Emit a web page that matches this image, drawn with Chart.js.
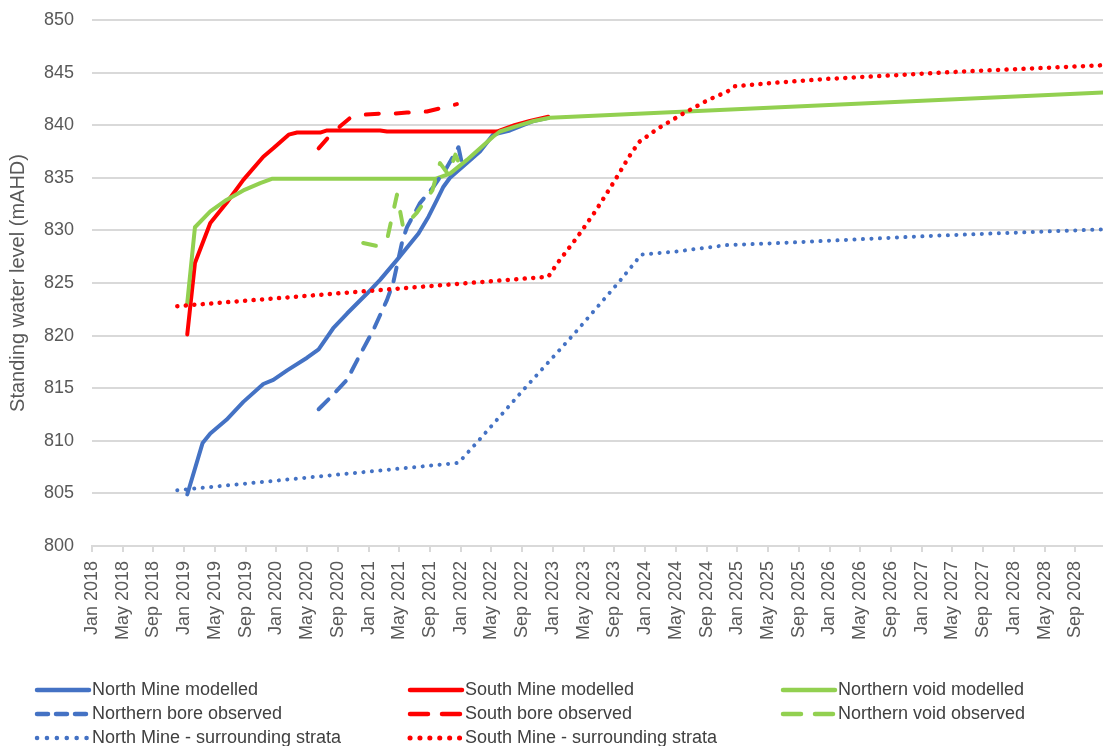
<!DOCTYPE html>
<html>
<head>
<meta charset="utf-8">
<script src="https://cdn.jsdelivr.net/npm/chart.js@4/dist/chart.umd.min.js"></script>
<style>
  html, body { margin: 0; padding: 0; background: #ffffff; }
  canvas { display: block; }
</style>
</head>
<body>
<canvas id="chart" width="1103" height="746"></canvas>
<script>
// Time axis: positions are months since Jan 2018
const tickLabels = [
  'Jan 2018', 'May 2018', 'Sep 2018', 'Jan 2019', 'May 2019', 'Sep 2019',
  'Jan 2020', 'May 2020', 'Sep 2020', 'Jan 2021', 'May 2021', 'Sep 2021',
  'Jan 2022', 'May 2022', 'Sep 2022', 'Jan 2023', 'May 2023', 'Sep 2023',
  'Jan 2024', 'May 2024', 'Sep 2024', 'Jan 2025', 'May 2025', 'Sep 2025',
  'Jan 2026', 'May 2026', 'Sep 2026', 'Jan 2027', 'May 2027', 'Sep 2027',
  'Jan 2028', 'May 2028', 'Sep 2028'
];
const tickMonths = tickLabels.map((_, i) => i * 4);
const axisEndMonth = 131.6;

// North Mine modelled
const northMineModelledMonths = [12.4, 14.4, 15.4, 17.5, 19.7, 22.3, 23.6, 25.4, 28.0, 29.5, 31.4, 33.2, 35.8, 37.5, 39.7, 42.5, 43.8, 44.9, 45.7, 46.6, 48.8, 50.5, 52.2, 54.4, 57.5, 59.4];
const northMineModelled       = [804.9, 809.8, 810.7, 812.0, 813.7, 815.4, 815.8, 816.7, 817.9, 818.7, 820.7, 822.1, 824.0, 825.3, 827.2, 829.7, 831.3, 832.9, 834.1, 835.0, 836.4, 837.5, 839.1, 839.5, 840.4, 840.7];

// South Mine modelled
const southMineModelledMonths = [12.4, 13.4, 15.4, 17.5, 19.7, 22.3, 23.6, 25.6, 26.7, 29.7, 30.6, 37.5, 38.4, 52.7, 55.0, 57.0, 59.4];
const southMineModelled       = [820.1, 826.9, 830.7, 832.6, 834.8, 837.0, 837.8, 839.1, 839.3, 839.3, 839.5, 839.5, 839.4, 839.4, 840.0, 840.4, 840.8];

// Northern void modelled
const northernVoidModelledMonths = [12.4, 13.4, 15.4, 17.5, 19.7, 21.9, 23.4, 44.7, 46.6, 48.8, 52.2, 53.1, 55.7, 57.5, 59.6, 131.6];
const northernVoidModelled       = [823.1, 830.3, 831.8, 832.9, 833.8, 834.5, 834.9, 834.9, 835.4, 836.7, 838.9, 839.4, 840.0, 840.4, 840.7, 843.1];

// Northern bore observed
const northernBoreObservedMonths = [29.5, 31.4, 33.2, 34.9, 36.6, 38.4, 39.2, 39.8, 40.4, 41.0, 42.7, 44.4, 46.2, 47.7, 48.2];
const northernBoreObserved       = [813.0, 814.4, 815.8, 818.2, 820.5, 823.4, 825.0, 827.0, 829.0, 830.3, 832.6, 834.1, 836.0, 837.9, 836.2];

// South bore observed
const southBoreObservedMonths = [29.5, 30.7, 32.3, 33.6, 35.3, 37.5, 39.2, 41.0, 43.6, 45.3, 47.5];
const southBoreObserved       = [837.8, 838.8, 839.9, 840.7, 841.0, 841.1, 841.1, 841.2, 841.3, 841.6, 842.0];

// Northern void observed
const northernVoidObservedMonths = [35.3, 37.2, 38.4, 39.7, 40.5, 42.3, 44.3, 45.3, 46.4, 47.3, 48.3];
const northernVoidObserved       = [828.8, 828.5, 829.1, 833.4, 830.3, 831.7, 833.8, 836.4, 835.3, 837.2, 835.5];

// North Mine - surrounding strata
const northStrataMonths = [11.1, 47.7, 50.3, 56.1, 62.8, 68.6, 71.5, 76.1, 82.6, 89.5, 98.2, 109.9, 131.6];
const northStrata       = [805.3, 807.9, 810.0, 814.8, 820.2, 825.1, 827.7, 828.0, 828.6, 828.8, 829.1, 829.5, 830.1];

// South Mine - surrounding strata
const southStrataMonths = [11.1, 59.4, 60.6, 63.2, 65.6, 68.1, 69.9, 71.2, 73.7, 76.7, 80.2, 82.7, 83.7, 88.2, 95.7, 103.2, 113.2, 131.6];
const southStrata       = [822.8, 825.6, 826.9, 829.4, 831.9, 834.8, 837.0, 838.4, 839.7, 841.0, 842.4, 843.2, 843.7, 844.0, 844.4, 844.7, 845.1, 845.7];

const BLUE = '#4472C4', RED = '#FF0000', GREEN = '#92D050';
const TEXT = '#595959', GRID = '#D9D9D9';
const FONT = '"Liberation Sans", Arial, sans-serif';

const pts = (xs, ys) => xs.map((x, i) => ({ x: x, y: ys[i] }));

function series(label, xs, ys, color, width, dash, legendDash) {
  return {
    label: label,
    data: pts(xs, ys),
    borderColor: color,
    backgroundColor: color,
    borderWidth: width,
    borderDash: dash,
    borderCapStyle: 'round',
    borderJoinStyle: 'round',
    pointRadius: 0,
    fill: false,
    tension: 0,
    legendDash: legendDash
  };
}

const datasets = [
  series('North Mine modelled', northMineModelledMonths, northMineModelled, BLUE, 4, [], []),
  series('South Mine modelled', southMineModelledMonths, southMineModelled, RED, 4, [], []),
  series('Northern void modelled', northernVoidModelledMonths, northernVoidModelled, GREEN, 4, [], []),
  series('Northern bore observed', northernBoreObservedMonths, northernBoreObserved, BLUE, 4, [14, 11], [11, 8]),
  series('South bore observed', southBoreObservedMonths, southBoreObserved, RED, 4, [13, 17], [18, 14]),
  series('Northern void observed', northernVoidObservedMonths, northernVoidObserved, GREEN, 4, [13, 17], [18, 14]),
  series('North Mine - surrounding strata', northStrataMonths, northStrata, BLUE, 4, [0.1, 8.4], [0.1, 9.8]),
  series('South Mine - surrounding strata', southStrataMonths, southStrata, RED, 4.5, [0.1, 8.4], [0.1, 9.8])
];
// later series sit on top of earlier ones
datasets.forEach((d, i) => { d.order = -i; });

// Three-column legend under the axis
const gridLegend = {
  id: 'gridLegend',
  afterDraw(chart) {
    const ctx = chart.ctx;
    const colX = [35, 408, 781];
    const rowY = [690, 714, 738];
    const sampleLen = 54;
    ctx.save();
    chart.data.datasets.forEach((d, i) => {
      const x = colX[i % 3];
      const y = rowY[Math.floor(i / 3)];
      ctx.beginPath();
      ctx.strokeStyle = d.borderColor;
      ctx.lineWidth = d.borderWidth + 0.5;
      ctx.lineCap = 'round';
      ctx.setLineDash(d.legendDash);
      ctx.moveTo(x + 2, y);
      ctx.lineTo(x + sampleLen, y);
      ctx.stroke();
      ctx.setLineDash([]);
      ctx.fillStyle = '#404040';
      ctx.font = '18px ' + FONT;
      ctx.textBaseline = 'middle';
      ctx.textAlign = 'left';
      ctx.fillText(d.label, x + 57, y);
    });
    ctx.restore();
  }
};

new Chart(document.getElementById('chart'), {
  type: 'line',
  data: { datasets: datasets },
  plugins: [gridLegend],
  options: {
    responsive: false,
    animation: false,
    devicePixelRatio: 1,
    layout: { padding: { left: 0, right: 0, top: 20, bottom: 100 } },
    plugins: { legend: { display: false }, tooltip: { enabled: false } },
    scales: {
      x: {
        type: 'linear',
        min: 0,
        max: axisEndMonth,
        afterBuildTicks(s) { s.ticks = tickMonths.map(v => ({ value: v })); },
        afterFit(s) { s.height = 100; s.paddingLeft = 0; s.paddingRight = 0; },
        ticks: {
          autoSkip: false,
          minRotation: 90,
          maxRotation: 90,
          padding: 9,
          color: TEXT,
          font: { family: FONT, size: 18 },
          callback: (v) => tickLabels[tickMonths.indexOf(v)]
        },
        grid: { drawOnChartArea: false, drawTicks: true, tickLength: 6, color: GRID, lineWidth: 2 },
        border: { color: GRID, width: 2 }
      },
      y: {
        min: 800,
        max: 850,
        afterFit(s) { s.width = 92; s.paddingTop = 0; s.paddingBottom = 0; },
        ticks: { stepSize: 5, padding: 18, color: TEXT, font: { family: FONT, size: 18 } },
        grid: { color: GRID, lineWidth: 2, drawTicks: false },
        border: { display: false },
        title: {
          display: true,
          text: 'Standing water level (mAHD)',
          color: TEXT,
          font: { family: FONT, size: 20 },
          padding: { top: 6, bottom: 0 }
        }
      }
    }
  }
});
</script>
</body>
</html>
